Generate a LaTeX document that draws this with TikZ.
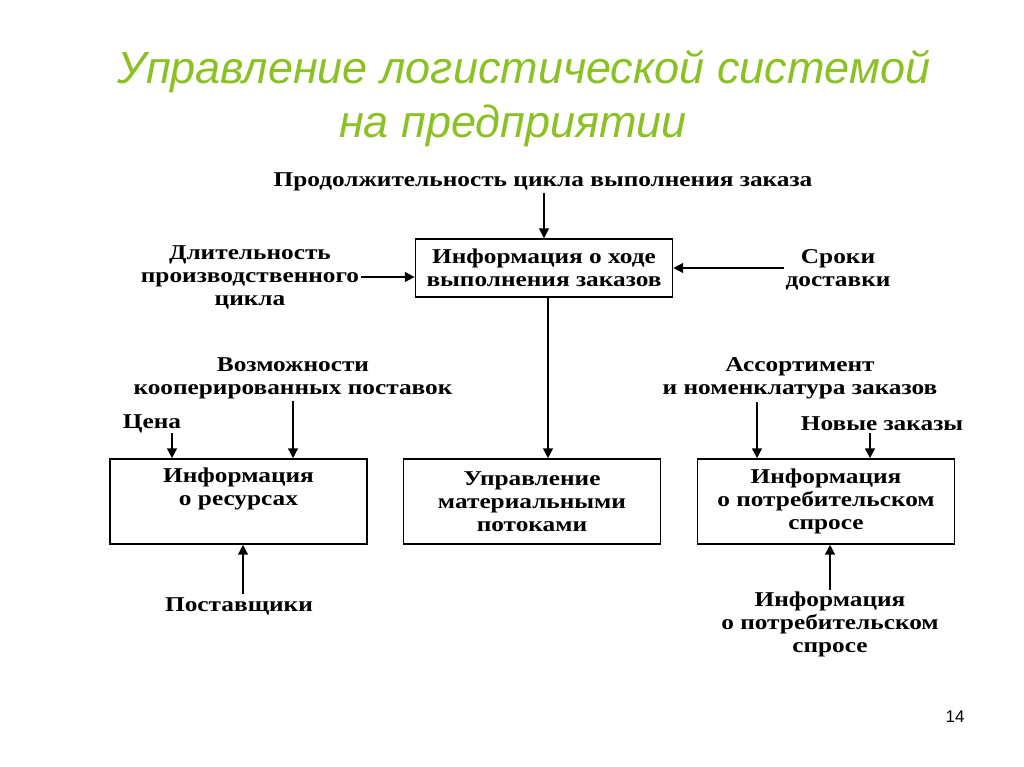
\documentclass[tikz,border=0pt]{standalone}
\usepackage{fontspec}
\setmainfont{Liberation Serif}[FakeStretch=1.2]
\setsansfont{Liberation Sans}
\usetikzlibrary{positioning}
\usetikzlibrary{arrows.meta}
\definecolor{titlegreen}{RGB}{140,193,38}
\tikzset{
    mybox/.style = {rectangle, draw=black, line width=1pt, align=center, font=\bfseries\fontsize{15}{16.4}\selectfont, minimum width=6.43cm, minimum height=2.13cm, inner sep=0pt},
    mytext/.style = {align=center, font=\bfseries\fontsize{15}{16.4}\selectfont, inner sep=1pt},
    mytitle/.style = {align=center, text=titlegreen, font=\sffamily\itshape\fontsize{32}{38.4}\selectfont},
    edgea/.style = {-{Triangle[length=7pt,width=7pt]}, line width=1.1pt, black},
    edgen/.style = {-, line width=1pt, black}
}

\begin{document}
\begin{tikzpicture}[x=0.025cm, y=-0.025cm]
\useasboundingbox (0,0) rectangle (1024,767);
\node[mytitle] at (524.0, 72.0) (t1) {Управление логистической системой};
\node[mytitle] at (513.0, 126.0) (t2) {на предприятии};
\node[font=\sffamily\fontsize{12}{14}\selectfont] at (955.0, 717.0) (pg) {14};
%
\node[mybox, minimum height=1.45cm] at (544.0, 268.0) (hod) {Информация о ходе\\выполнения заказов};
\node[mybox] at (238.5, 501.5) (res) {Информация\\о ресурсах\\\strut};
\node[mybox] at (532.0, 501.5) (upr) {Управление\\материальными\\потоками};
\node[mybox] at (826.0, 501.5) (spr) {Информация\\о потребительском\\спросе};
%
\node[mytext] at (543.0, 182.0) (cikl) {Продолжительность цикла выполнения заказа};
\node[mytext] at (250.0, 277.0) (dlit) {Длительность\\производственного\\цикла};
\node[mytext] at (838.0, 270.0) (srok) {Сроки\\доставки};
\node[mytext] at (293.0, 378.5) (vozm) {Возможности\\кооперированных поставок};
\node[mytext] at (152.0, 424.0) (cena) {Цена};
\node[mytext] at (800.0, 378.5) (asso) {Ассортимент\\и номенклатура заказов};
\node[mytext] at (882.0, 424.0) (nov) {Новые заказы};
\node[mytext] at (239.0, 606.0) (post) {Поставщики};
\node[mytext] at (830.0, 624.0) (potr) {Информация\\о потребительском\\спросе};
%
\coordinate (cenaA) at (172.0, 433.0);
\coordinate (novA) at (870.0, 433.0);
\coordinate (assoA) at (757.0, 402.0);
\coordinate (postA) at (243.0, 594.0);
%
\draw[edgea] (cikl.south -| hod.north) -- (hod.north);
\draw[edgea] (dlit.east) -- (hod.west |- dlit.east);
\draw[edgea] (srok.west |- hod.east) -- (hod.east);
\draw[edgea] (hod.south -| 548.0,0) -- (upr.north -| 548.0,0);
\draw[edgea] (vozm.south) -- (vozm.south |- res.north);
\draw[edgea] (cenaA) -- (cenaA |- res.north);
\draw[edgea] (assoA) -- (assoA |- spr.north);
\draw[edgea] (novA) -- (novA |- spr.north);
\draw[edgea] (postA) -- (postA |- res.south);
\draw[edgea] (potr.north) -- (potr.north |- spr.south);
\end{tikzpicture}
\end{document}
